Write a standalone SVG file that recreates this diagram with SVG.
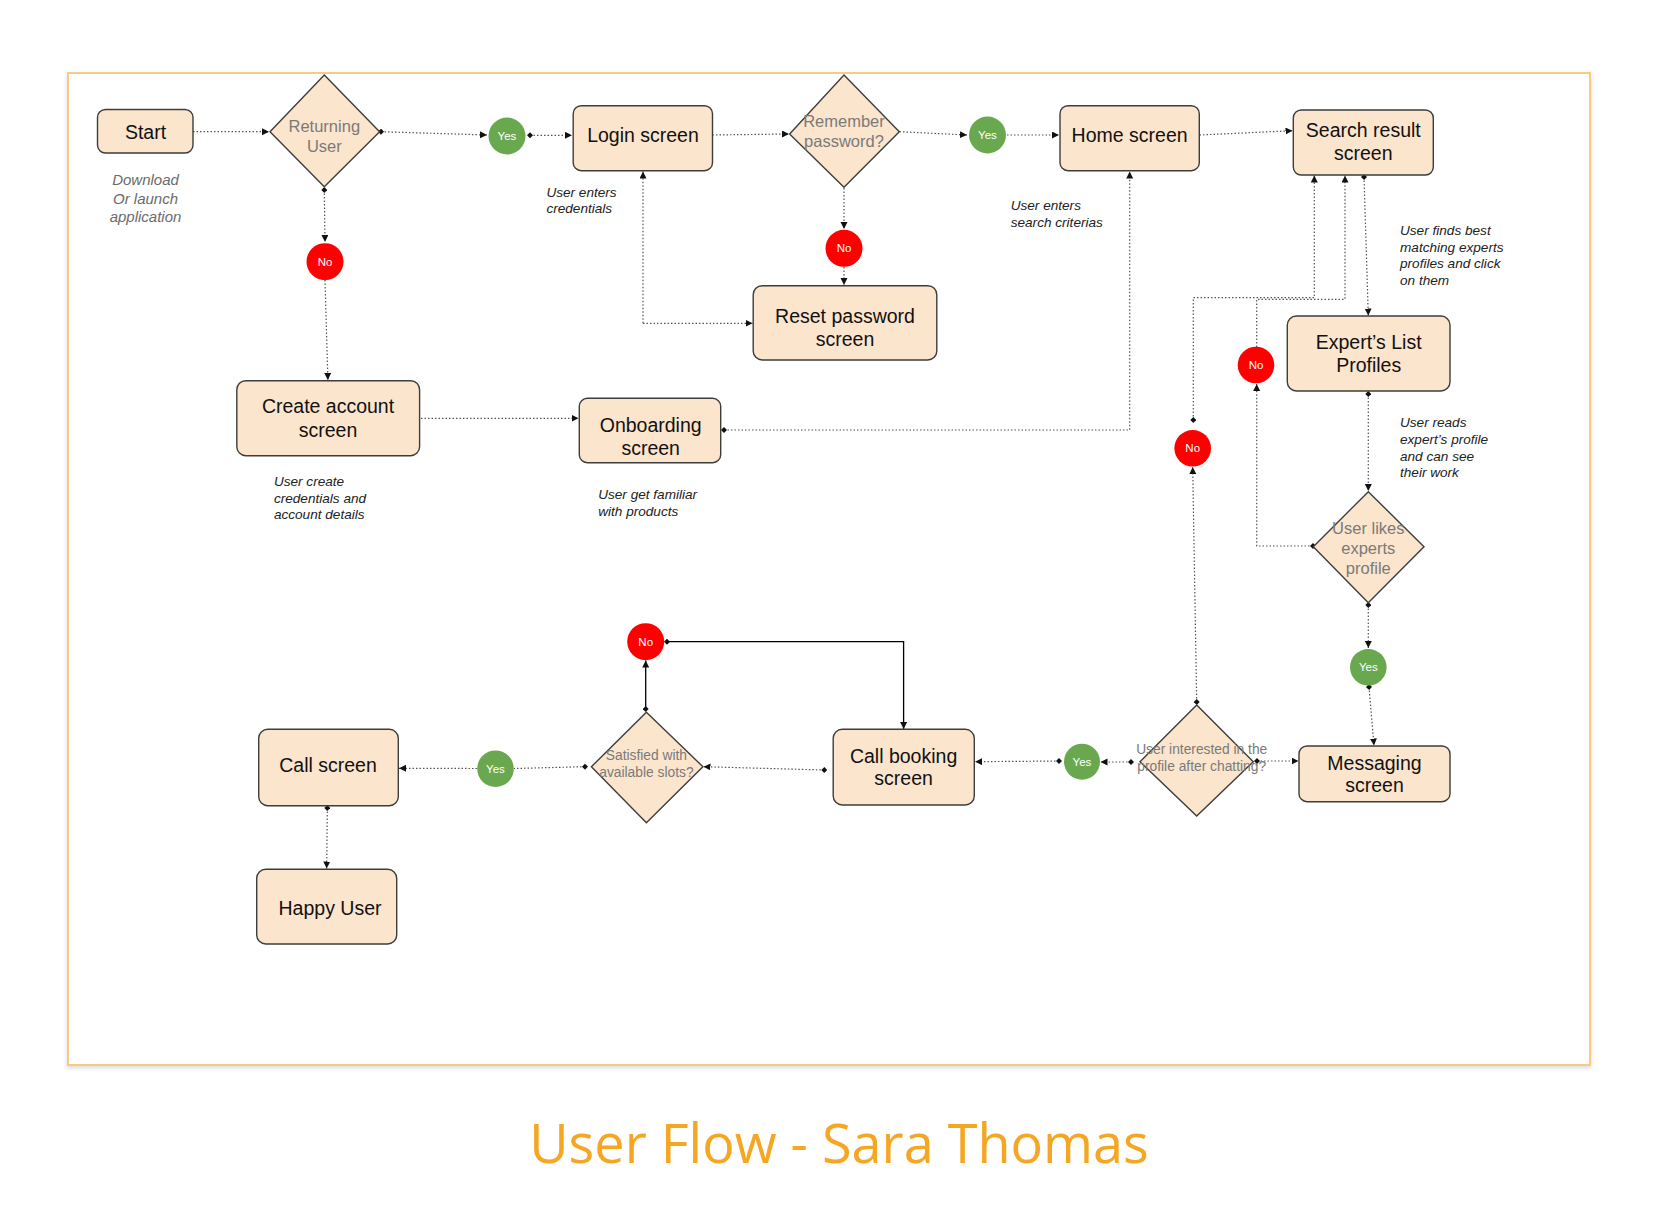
<svg xmlns="http://www.w3.org/2000/svg" width="1676" height="1228" viewBox="0 0 1676 1228">
<defs>
<style>
.box{fill:#fce5cd;stroke:#3d3d3d;stroke-width:1.4}
.dia{fill:#fce5cd;stroke:#3d3d3d;stroke-width:1.4}
.t{font-family:"Liberation Sans",Arial,sans-serif;font-size:19.5px;fill:#111;text-anchor:middle}
.dt{font-family:"Liberation Sans",Arial,sans-serif;font-size:16.5px;fill:#7a7a7a;text-anchor:middle}
.dts{font-family:"Liberation Sans",Arial,sans-serif;font-size:13.8px;fill:#7a7a7a;text-anchor:middle}
.ct{font-family:"Liberation Sans",Arial,sans-serif;font-size:11.5px;fill:#fff;text-anchor:middle}
.yes{fill:#6aa84f}
.no{fill:#ff0000}
.note{font-family:"Liberation Sans",Arial,sans-serif;font-size:13.6px;font-style:italic;fill:#222}
.gnote{font-family:"Liberation Sans",Arial,sans-serif;font-size:15px;font-style:italic;fill:#6b6b6b;text-anchor:middle}
.c{fill:none;stroke:#555;stroke-width:1.2;stroke-dasharray:1.5 2}
.s{fill:none;stroke:#000;stroke-width:1.3}
</style>
<marker id="arr" markerUnits="userSpaceOnUse" markerWidth="8" markerHeight="8" refX="7" refY="3.5" orient="auto"><path d="M0,0 L7,3.5 L0,7 z" fill="#111"/></marker>
<marker id="dot" markerUnits="userSpaceOnUse" markerWidth="6" markerHeight="6" refX="3" refY="3" orient="auto"><path d="M0,3 L3,0 L6,3 L3,6 z" fill="#111"/></marker>
<filter id="sh" x="-5%" y="-5%" width="110%" height="110%"><feDropShadow dx="0" dy="2" stdDeviation="2" flood-color="#000" flood-opacity="0.15"/></filter>
</defs>
<rect width="1676" height="1228" fill="#fff"/>
<rect x="68" y="73" width="1522" height="992" fill="#fff" stroke="#f9cb80" stroke-width="2" filter="url(#sh)"/>

<g id="connectors">
<path class="c" d="M193,131.7 L269,131.7" marker-end="url(#arr)"/>
<path class="c" d="M381,131.7 L487,135" marker-start="url(#dot)" marker-end="url(#arr)"/>
<path class="c" d="M530,135.3 L572,135.3" marker-start="url(#dot)" marker-end="url(#arr)"/>
<path class="c" d="M712.5,135 L789,134" marker-end="url(#arr)"/>
<path class="c" d="M899.5,131.7 L967,135" marker-end="url(#arr)"/>
<path class="c" d="M1007,135 L1059,135" marker-end="url(#arr)"/>
<path class="c" d="M1199.5,135 L1292.5,130.7" marker-end="url(#arr)"/>
<path class="c" d="M324.3,190 L325,242" marker-start="url(#dot)" marker-end="url(#arr)"/>
<path class="c" d="M325,280 L327.9,380" marker-end="url(#arr)"/>
<path class="c" d="M844,188 L844,229" marker-end="url(#arr)"/>
<path class="c" d="M844,267 L844,285" marker-end="url(#arr)"/>
<path class="c" d="M643,323.3 L752.5,323.3" marker-end="url(#arr)"/>
<path class="c" d="M643,323.3 L643,171.5" marker-end="url(#arr)"/>
<path class="c" d="M400,418.3 L578.5,418.3" marker-start="url(#dot)" marker-end="url(#arr)"/>
<path class="c" d="M724,430 L1129.7,430 L1129.7,171.5" marker-start="url(#dot)" marker-end="url(#arr)"/>
<path class="c" d="M1364,177 L1368.3,315.5" marker-start="url(#dot)" marker-end="url(#arr)"/>
<path class="c" d="M1368.3,394 L1368.3,491" marker-start="url(#dot)" marker-end="url(#arr)"/>
<path class="c" d="M1368.3,605 L1368.3,648" marker-start="url(#dot)" marker-end="url(#arr)"/>
<path class="c" d="M1369,687 L1374,745.5" marker-start="url(#dot)" marker-end="url(#arr)"/>
<path class="c" d="M1313,546 L1256.7,546 L1256.7,384" marker-start="url(#dot)" marker-end="url(#arr)"/>
<path class="c" d="M1256.7,347 L1256.7,299.3 L1345,299.3 L1345,175.5" marker-end="url(#arr)"/>
<path class="c" d="M1196.7,702 L1192.7,467" marker-start="url(#dot)" marker-end="url(#arr)"/>
<path class="c" d="M1193.3,420 L1193.3,297.7 L1314.3,297.7 L1314.3,175.5" marker-start="url(#dot)" marker-end="url(#arr)"/>
<path class="c" d="M1257,761 L1298.5,761" marker-start="url(#dot)" marker-end="url(#arr)"/>
<path class="c" d="M1131,762 L1100.5,762" marker-start="url(#dot)" marker-end="url(#arr)"/>
<path class="c" d="M1059,761 L975,761.7" marker-start="url(#dot)" marker-end="url(#arr)"/>
<path class="s" d="M667,641.7 L903.6,641.7 L903.6,729" marker-start="url(#dot)" marker-end="url(#arr)"/>
<path class="s" d="M645.7,709 L645.7,660.5" marker-start="url(#dot)" marker-end="url(#arr)"/>
<path class="c" d="M824.3,770 L703.5,766.7" marker-start="url(#dot)" marker-end="url(#arr)"/>
<path class="c" d="M585,766.7 L514,768.5" marker-start="url(#dot)"/>
<path class="c" d="M477,768.5 L399,768.3" marker-end="url(#arr)"/>
<path class="c" d="M327.3,808 L326.7,868.5" marker-start="url(#dot)" marker-end="url(#arr)"/>
</g>

<g id="start"><rect class="box" x="97.5" y="109.5" width="95.5" height="43.5" rx="8"/><text class="t" x="145.5" y="138.5">Start</text></g>
<g id="note-download"><text class="gnote" x="145.5" y="185">Download</text><text class="gnote" x="145.5" y="203.5">Or launch</text><text class="gnote" x="145.5" y="222">application</text></g>
<g id="returning-user"><path class="dia" d="M324.3,75 L379.6,131.7 L324.3,186.7 L270,131.7 z"/><text class="dt" x="324.3" y="131.7">Returning</text><text class="dt" x="324.3" y="151.7">User</text></g>
<g id="yes1"><circle class="yes" cx="507" cy="136" r="18.5"/><text class="ct" x="507" y="140">Yes</text></g>
<g id="login"><rect class="box" x="573.2" y="105.7" width="139.3" height="65" rx="8"/><text class="t" x="643" y="141.7">Login screen</text></g>
<g id="note-credentials"><text class="note" x="546.4" y="196.7">User enters</text><text class="note" x="546.4" y="213.3">credentials</text></g>
<g id="remember"><path class="dia" d="M844,75 L899.3,131.7 L844,187.3 L789.6,134 z"/><text class="dt" x="844" y="126.7">Remember</text><text class="dt" x="844" y="147.3">password?</text></g>
<g id="yes2"><circle class="yes" cx="987.5" cy="135" r="18.5"/><text class="ct" x="987.5" y="139">Yes</text></g>
<g id="home"><rect class="box" x="1060" y="105.7" width="139.3" height="65" rx="8"/><text class="t" x="1129.6" y="141.7">Home screen</text></g>
<g id="note-search"><text class="note" x="1010.7" y="210">User enters</text><text class="note" x="1010.7" y="226.7">search criterias</text></g>
<g id="search-result"><rect class="box" x="1293.3" y="110" width="140" height="65" rx="8"/><text class="t" x="1363.3" y="137.3">Search result</text><text class="t" x="1363.3" y="160">screen</text></g>
<g id="no1"><circle class="no" cx="325" cy="261.7" r="18.5"/><text class="ct" x="325" y="265.7">No</text></g>
<g id="no2"><circle class="no" cx="844" cy="248.3" r="18.5"/><text class="ct" x="844" y="252.3">No</text></g>
<g id="reset-password"><rect class="box" x="753.2" y="285.7" width="183.6" height="74.3" rx="9"/><text class="t" x="845" y="323.3">Reset password</text><text class="t" x="845" y="346">screen</text></g>
<g id="note-finds"><text class="note" x="1400" y="235">User finds best</text><text class="note" x="1400" y="251.7">matching experts</text><text class="note" x="1400" y="268.3">profiles and click</text><text class="note" x="1400" y="285">on them</text></g>
<g id="experts-list"><rect class="box" x="1287.3" y="316" width="162.7" height="75" rx="9"/><text class="t" x="1368.7" y="349.3">Expert’s List</text><text class="t" x="1368.7" y="372.3">Profiles</text></g>
<g id="no4"><circle class="no" cx="1256" cy="365" r="18.3"/><text class="ct" x="1256" y="369">No</text></g>
<g id="no5"><circle class="no" cx="1192.7" cy="448.3" r="18.3"/><text class="ct" x="1192.7" y="452.3">No</text></g>
<g id="note-reads"><text class="note" x="1400" y="427.3">User reads</text><text class="note" x="1400" y="444">expert’s profile</text><text class="note" x="1400" y="460.7">and can see</text><text class="note" x="1400" y="477.3">their work</text></g>
<g id="create-account"><rect class="box" x="236.8" y="380.7" width="182.8" height="75" rx="9"/><text class="t" x="328" y="413.3">Create account</text><text class="t" x="328" y="436.7">screen</text></g>
<g id="note-create"><text class="note" x="273.9" y="486">User create</text><text class="note" x="273.9" y="502.7">credentials and</text><text class="note" x="273.9" y="519.3">account details</text></g>
<g id="onboarding"><rect class="box" x="579.3" y="398.3" width="141.4" height="64.4" rx="8"/><text class="t" x="650.7" y="431.7">Onboarding</text><text class="t" x="650.7" y="455">screen</text></g>
<g id="note-onboarding"><text class="note" x="598.2" y="499.3">User get familiar</text><text class="note" x="598.2" y="516">with products</text></g>
<g id="user-likes"><path class="dia" d="M1368.3,491.7 L1424,546.7 L1368.3,602.7 L1313.3,546.7 z"/><text class="dt" x="1368.3" y="534">User likes</text><text class="dt" x="1368.3" y="554">experts</text><text class="dt" x="1368.3" y="574">profile</text></g>
<g id="yes3"><circle class="yes" cx="1368.3" cy="667.3" r="18.3"/><text class="ct" x="1368.3" y="671.3">Yes</text></g>
<g id="messaging"><rect class="box" x="1299" y="746" width="151" height="55.7" rx="8"/><text class="t" x="1374.5" y="770">Messaging</text><text class="t" x="1374.5" y="791.7">screen</text></g>
<g id="interested"><path class="dia" d="M1196.7,705 L1253.3,761.7 L1196.7,816 L1140,761.7 z"/><text class="dts" x="1201.7" y="754">User interested in the</text><text class="dts" x="1201.7" y="770.5">profile after chatting?</text></g>
<g id="yes4"><circle class="yes" cx="1082" cy="761.7" r="18"/><text class="ct" x="1082" y="765.7">Yes</text></g>
<g id="call-booking"><rect class="box" x="833.2" y="729.3" width="141.1" height="75.7" rx="9"/><text class="t" x="903.6" y="763.3">Call booking</text><text class="t" x="903.6" y="785">screen</text></g>
<g id="no3"><circle class="no" cx="645.7" cy="641.7" r="18.5"/><text class="ct" x="645.7" y="645.7">No</text></g>
<g id="satisfied"><path class="dia" d="M646.4,712.3 L702.9,766.7 L646.4,822.7 L591.4,766.7 z"/><text class="dts" x="646.4" y="760">Satisfied with</text><text class="dts" x="646.4" y="776.7">available slots?</text></g>
<g id="yes5"><circle class="yes" cx="495.5" cy="768.7" r="18.3"/><text class="ct" x="495.5" y="772.7">Yes</text></g>
<g id="call-screen"><rect class="box" x="258.7" y="729.3" width="139.6" height="76.4" rx="9"/><text class="t" x="328" y="771.7">Call screen</text></g>
<g id="happy-user"><rect class="box" x="256.7" y="869.3" width="140" height="74.7" rx="9"/><text class="t" x="330" y="915">Happy User</text></g>
<text x="839" y="1163" font-family="'Open Sans','Noto Sans',sans-serif" font-size="54" fill="#f5a623" text-anchor="middle">User Flow - Sara Thomas</text>
</svg>
